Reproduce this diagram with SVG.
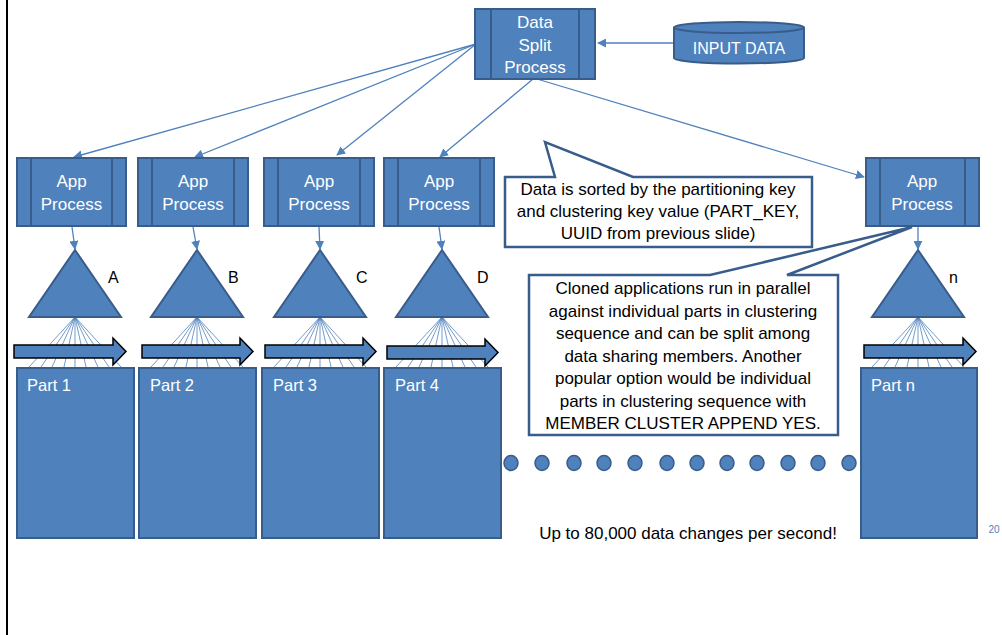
<svg xmlns="http://www.w3.org/2000/svg" width="1002" height="635" viewBox="0 0 1002 635">
<defs>
<marker id="ah" viewBox="0 0 10 10" refX="9" refY="5" markerWidth="9" markerHeight="9" markerUnits="userSpaceOnUse" orient="auto">
<path d="M0,0 L10,5 L0,10 Z" fill="#4F81BD"/>
</marker>
<style>
.box{fill:#4F81BD;stroke:#385D8A;stroke-width:2}
.inner{stroke:#385D8A;stroke-width:2;fill:none}
.wt{font-family:"Liberation Sans",Arial,sans-serif;font-size:17px;fill:#FFFFFF;text-anchor:middle}
.wl{font-family:"Liberation Sans",Arial,sans-serif;font-size:16.5px;fill:#FFFFFF}
.bt{font-family:"Liberation Sans",Arial,sans-serif;font-size:17px;fill:#000000;text-anchor:middle}
.lbl{font-family:"Liberation Sans",Arial,sans-serif;font-size:16px;fill:#000000}
.conn{stroke:#4F81BD;stroke-width:1.3;fill:none;marker-end:url(#ah)}
.fan{stroke:#4F81BD;stroke-width:0.8;fill:none}
.blk{fill:#4F81BD;stroke:#000000;stroke-width:1.5}
.call{fill:#FFFFFF;stroke:#385D8A;stroke-width:2.5;stroke-linejoin:miter}
.dot{fill:#4F81BD;stroke:#385D8A;stroke-width:1.5}
</style>
</defs>
<rect x="0" y="0" width="1002" height="635" fill="#FFFFFF"/>
<line x1="7" y1="0" x2="7" y2="635" stroke="#000000" stroke-width="2"/>

<g id="connectors">
<line class="conn" x1="675" y1="43" x2="598" y2="43"/>
<line class="conn" x1="476" y1="44" x2="74" y2="157"/>
<line class="conn" x1="476" y1="44" x2="195" y2="157"/>
<line class="conn" x1="476" y1="44" x2="337" y2="155"/>
<line class="conn" x1="533" y1="79" x2="440" y2="157"/>
<line class="conn" x1="537" y1="79" x2="864" y2="177"/>
<line class="conn" x1="72" y1="227" x2="75" y2="249"/>
<line class="conn" x1="193" y1="227" x2="197" y2="249"/>
<line class="conn" x1="319" y1="227" x2="320" y2="249"/>
<line class="conn" x1="439" y1="227" x2="442" y2="249"/>
<line class="conn" x1="918" y1="227" x2="918" y2="249"/>
</g>

<g id="input-data">
<path class="box" d="M674,27.5 L674,58 A65,5.5 0 0 0 804,58 L804,27.5"/>
<ellipse class="box" cx="739" cy="27.5" rx="65" ry="5.5"/>
<text class="wt" x="739" y="54" style="font-size:16px">INPUT DATA</text>
</g>

<g id="data-split">
<rect class="box" x="475" y="9" width="120" height="70"/>
<line class="inner" x1="491" y1="9" x2="491" y2="79"/>
<line class="inner" x1="579" y1="9" x2="579" y2="79"/>
<text class="wt" x="535" y="28">Data</text>
<text class="wt" x="535" y="51">Split</text>
<text class="wt" x="535" y="73">Process</text>
</g>

<g id="app1">
<rect class="box" x="17" y="158" width="109" height="68"/>
<line class="inner" x1="31" y1="158" x2="31" y2="226"/>
<line class="inner" x1="112" y1="158" x2="112" y2="226"/>
<text class="wt" x="71.5" y="187">App</text>
<text class="wt" x="71.5" y="210">Process</text>
</g>
<g id="app2">
<rect class="box" x="138" y="158" width="110" height="68"/>
<line class="inner" x1="152" y1="158" x2="152" y2="226"/>
<line class="inner" x1="234" y1="158" x2="234" y2="226"/>
<text class="wt" x="193" y="187">App</text>
<text class="wt" x="193" y="210">Process</text>
</g>
<g id="app3">
<rect class="box" x="264" y="158" width="110" height="68"/>
<line class="inner" x1="278" y1="158" x2="278" y2="226"/>
<line class="inner" x1="360" y1="158" x2="360" y2="226"/>
<text class="wt" x="319" y="187">App</text>
<text class="wt" x="319" y="210">Process</text>
</g>
<g id="app4">
<rect class="box" x="384" y="158" width="110" height="68"/>
<line class="inner" x1="398" y1="158" x2="398" y2="226"/>
<line class="inner" x1="480" y1="158" x2="480" y2="226"/>
<text class="wt" x="439" y="187">App</text>
<text class="wt" x="439" y="210">Process</text>
</g>
<g id="appn">
<rect class="box" x="866" y="158" width="113" height="68"/>
<line class="inner" x1="880" y1="158" x2="880" y2="226"/>
<line class="inner" x1="965" y1="158" x2="965" y2="226"/>
<text class="wt" x="922" y="187">App</text>
<text class="wt" x="922" y="210">Process</text>
</g>

<g id="fans">
<path class="fan" d="M75,317 L29,367 M75,317 L41,367 M75,317 L52,367 M75,317 L64,367 M75,317 L75,367 M75,317 L86,367 M75,317 L98,367 M75,317 L109,367 M75,317 L121,367"/>
<path class="fan" d="M197,317 L151,367 M197,317 L163,367 M197,317 L174,367 M197,317 L186,367 M197,317 L197,367 M197,317 L208,367 M197,317 L220,367 M197,317 L231,367 M197,317 L243,367"/>
<path class="fan" d="M320,317 L274,367 M320,317 L286,367 M320,317 L297,367 M320,317 L309,367 M320,317 L320,367 M320,317 L331,367 M320,317 L343,367 M320,317 L354,367 M320,317 L366,367"/>
<path class="fan" d="M442,317 L396,367 M442,317 L408,367 M442,317 L419,367 M442,317 L431,367 M442,317 L442,367 M442,317 L453,367 M442,317 L465,367 M442,317 L476,367 M442,317 L488,367"/>
<path class="fan" d="M918,317 L872,367 M918,317 L884,367 M918,317 L895,367 M918,317 L907,367 M918,317 L918,367 M918,317 L929,367 M918,317 L941,367 M918,317 L952,367 M918,317 L964,367"/>
</g>

<g id="tri-a">
<polygon class="box" points="75,250 29,317 121,317"/>
<text class="lbl" x="108" y="283">A</text>
</g>
<g id="tri-b">
<polygon class="box" points="197,250 151,317 243,317"/>
<text class="lbl" x="228" y="283">B</text>
</g>
<g id="tri-c">
<polygon class="box" points="320,250 274,317 366,317"/>
<text class="lbl" x="356" y="283">C</text>
</g>
<g id="tri-d">
<polygon class="box" points="442,250 396,317 488,317"/>
<text class="lbl" x="477" y="283">D</text>
</g>
<g id="tri-n">
<polygon class="box" points="918,250 872,317 964,317"/>
<text class="lbl" x="949" y="283">n</text>
</g>

<g id="arrows">
<path class="blk" d="M14,345 L113,345 L113,338 L126,351.5 L113,365 L113,358 L14,358 Z"/>
<path class="blk" d="M142,345 L240,345 L240,338 L253,351.5 L240,365 L240,358 L142,358 Z"/>
<path class="blk" d="M265,345 L363,345 L363,338 L376,351.5 L363,365 L363,358 L265,358 Z"/>
<path class="blk" d="M387,346 L485,346 L485,339 L498,352.5 L485,366 L485,359 L387,359 Z"/>
<path class="blk" d="M864,345 L963,345 L963,338 L976,351.5 L963,365 L963,358 L864,358 Z"/>
</g>

<g id="part1">
<rect class="box" x="17" y="368" width="117" height="170"/>
<text class="wl" x="27" y="391">Part 1</text>
</g>
<g id="part2">
<rect class="box" x="139" y="368" width="117" height="170"/>
<text class="wl" x="150" y="391">Part 2</text>
</g>
<g id="part3">
<rect class="box" x="262" y="368" width="117" height="170"/>
<text class="wl" x="273" y="391">Part 3</text>
</g>
<g id="part4">
<rect class="box" x="384" y="368" width="117" height="170"/>
<text class="wl" x="395" y="391">Part 4</text>
</g>
<g id="partn">
<rect class="box" x="861" y="368" width="116" height="170"/>
<text class="wl" x="871" y="391">Part n</text>
</g>

<g id="dots">
<ellipse class="dot" cx="511" cy="463" rx="7" ry="7.5"/>
<ellipse class="dot" cx="542" cy="463" rx="7" ry="7.5"/>
<ellipse class="dot" cx="574" cy="463" rx="7" ry="7.5"/>
<ellipse class="dot" cx="604" cy="463" rx="7" ry="7.5"/>
<ellipse class="dot" cx="635" cy="463" rx="7" ry="7.5"/>
<ellipse class="dot" cx="667" cy="463" rx="7" ry="7.5"/>
<ellipse class="dot" cx="697" cy="463" rx="7" ry="7.5"/>
<ellipse class="dot" cx="727" cy="463" rx="7" ry="7.5"/>
<ellipse class="dot" cx="757" cy="463" rx="7" ry="7.5"/>
<ellipse class="dot" cx="788" cy="463" rx="7" ry="7.5"/>
<ellipse class="dot" cx="818" cy="463" rx="7" ry="7.5"/>
<ellipse class="dot" cx="849" cy="463" rx="7" ry="7.5"/>
</g>

<g id="callout-sorted">
<path class="call" d="M505,177 L555,177 L545,142 L633,177 L812,177 L812,247 L505,247 Z"/>
<text class="bt" x="658" y="195">Data is sorted by the partitioning key</text>
<text class="bt" x="658" y="217">and clustering key value (PART_KEY,</text>
<text class="bt" x="658" y="239">UUID from previous slide)</text>
</g>

<g id="callout-cloned">
<path class="call" d="M529,275 L710,275 L912,227 L787,275 L838,275 L838,435 L529,435 Z"/>
<text class="bt" x="683" y="294">Cloned applications run in parallel</text>
<text class="bt" x="683" y="317">against individual parts in clustering</text>
<text class="bt" x="683" y="339">sequence and can be split among</text>
<text class="bt" x="683" y="362">data sharing members. Another</text>
<text class="bt" x="683" y="384">popular option would be individual</text>
<text class="bt" x="683" y="407">parts in clustering sequence with</text>
<text class="bt" x="683" y="429">MEMBER CLUSTER APPEND YES.</text>
</g>

<text class="bt" x="688" y="539">Up to 80,000 data changes per second!</text>
<text x="994" y="533" font-family="Liberation Sans, Arial, sans-serif" font-size="10" fill="#4F81BD" text-anchor="middle">20</text>
</svg>
